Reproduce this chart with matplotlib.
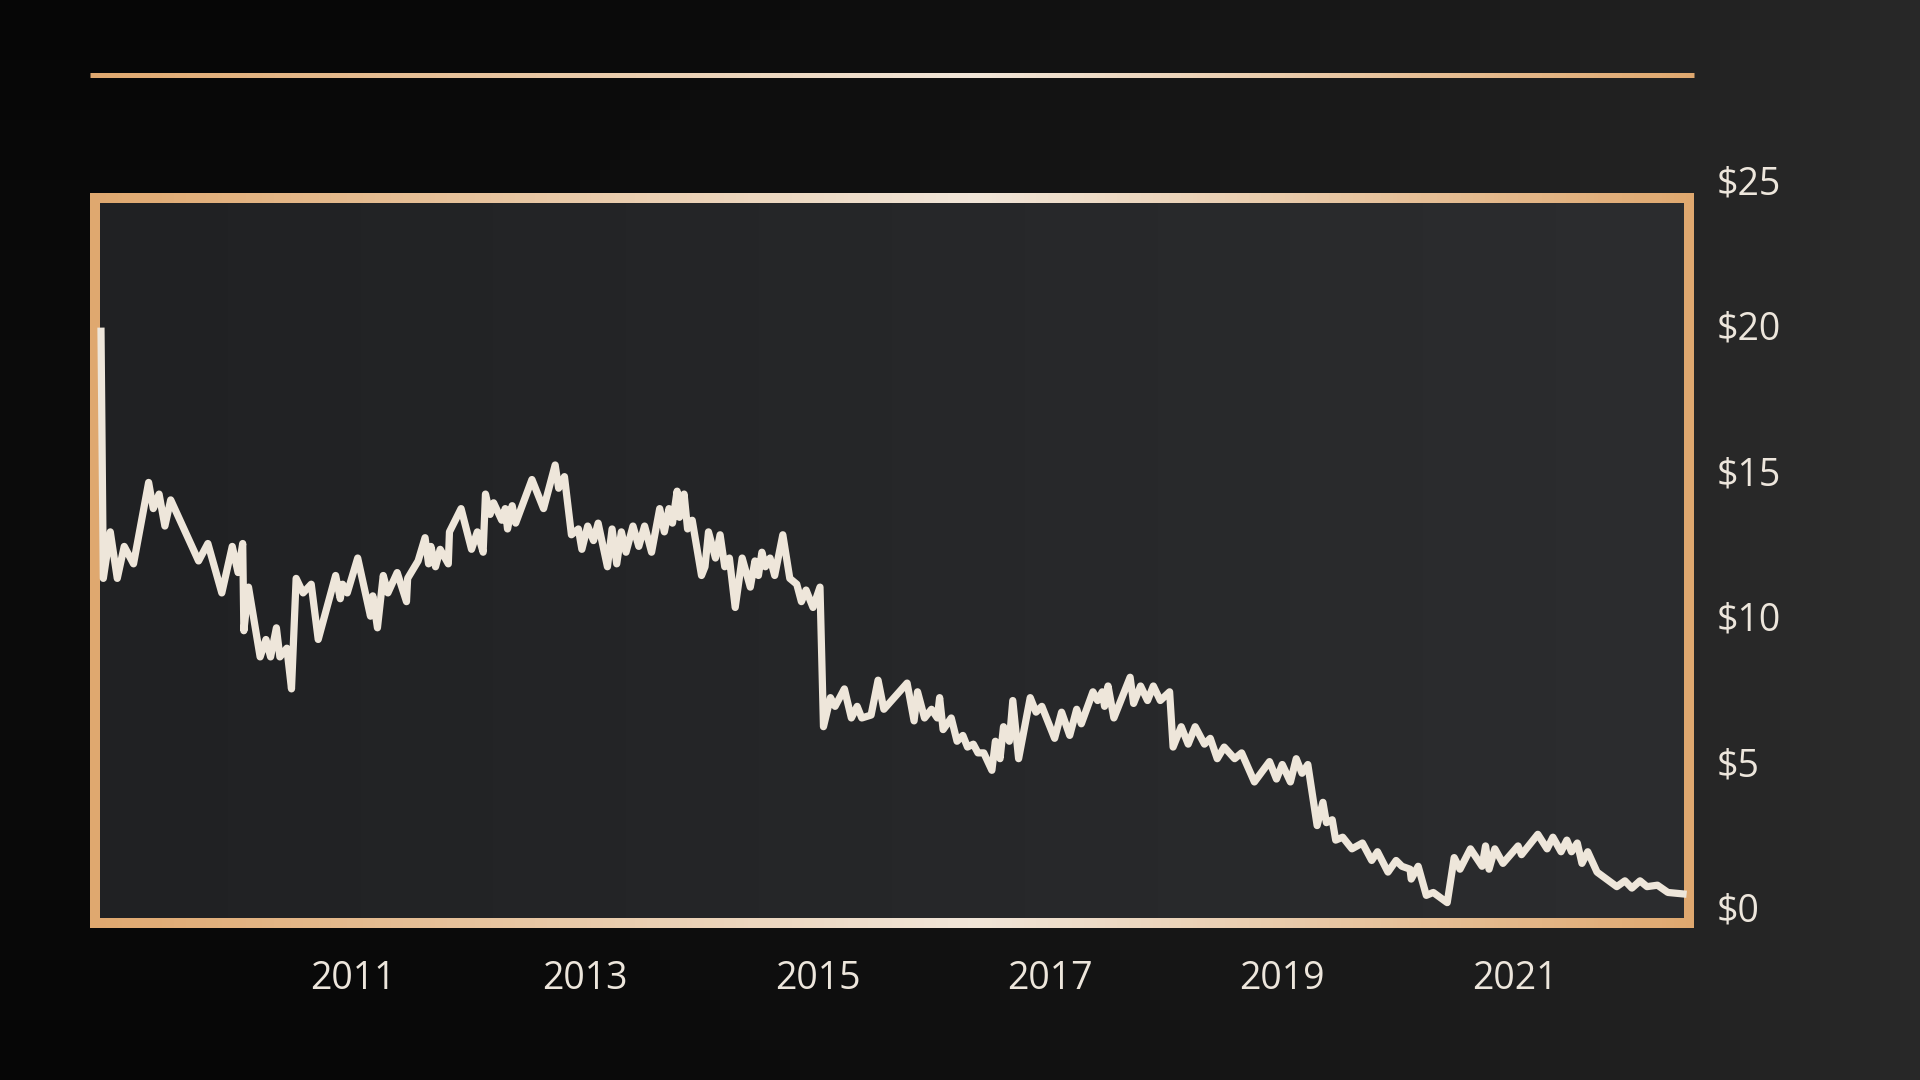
import numpy as np
import matplotlib
matplotlib.use("Agg")
import matplotlib.pyplot as plt
from matplotlib.collections import LineCollection
from matplotlib.colors import LinearSegmentedColormap

# Precio de la accion (USD), lectura aproximada del grafico
years = [
    2008.83, 2008.85, 2008.91, 2008.97, 2009.03, 2009.11, 2009.24, 2009.28, 2009.33, 2009.38,
    2009.43, 2009.67, 2009.75, 2009.87, 2009.96, 2010.01, 2010.05, 2010.06, 2010.10, 2010.20,
    2010.25, 2010.29, 2010.34, 2010.37, 2010.43, 2010.47, 2010.51, 2010.57, 2010.64, 2010.70,
    2010.85, 2010.89, 2010.91, 2010.95, 2011.04, 2011.15, 2011.17, 2011.21, 2011.26, 2011.30,
    2011.38, 2011.46, 2011.47, 2011.56, 2011.62, 2011.65, 2011.67, 2011.71, 2011.75, 2011.82,
    2011.83, 2011.93, 2012.02, 2012.07, 2012.12, 2012.14, 2012.18, 2012.21, 2012.28, 2012.31,
    2012.33, 2012.37, 2012.40, 2012.54, 2012.64, 2012.74, 2012.77, 2012.82, 2012.88, 2012.94,
    2012.97, 2013.02, 2013.07, 2013.11, 2013.19, 2013.23, 2013.27, 2013.31, 2013.35, 2013.41,
    2013.46, 2013.51, 2013.57, 2013.64, 2013.68, 2013.72, 2013.75, 2013.79, 2013.81, 2013.85,
    2013.88, 2013.92, 2014.00, 2014.03, 2014.06, 2014.12, 2014.16, 2014.20, 2014.24, 2014.29,
    2014.35, 2014.42, 2014.46, 2014.49, 2014.52, 2014.55, 2014.59, 2014.63, 2014.70, 2014.76,
    2014.82, 2014.86, 2014.90, 2014.96, 2015.02, 2015.05, 2015.11, 2015.15, 2015.23, 2015.29,
    2015.34, 2015.38, 2015.46, 2015.52, 2015.57, 2015.77, 2015.83, 2015.86, 2015.92, 2015.98,
    2016.03, 2016.05, 2016.08, 2016.15, 2016.20, 2016.25, 2016.29, 2016.34, 2016.38, 2016.43,
    2016.50, 2016.53, 2016.57, 2016.60, 2016.65, 2016.68, 2016.73, 2016.83, 2016.88, 2016.93,
    2017.04, 2017.10, 2017.17, 2017.23, 2017.27, 2017.37, 2017.41, 2017.45, 2017.47, 2017.50,
    2017.55, 2017.69, 2017.72, 2017.78, 2017.84, 2017.89, 2017.95, 2018.03, 2018.06, 2018.13,
    2018.19, 2018.25, 2018.33, 2018.38, 2018.44, 2018.50, 2018.59, 2018.65, 2018.76, 2018.89,
    2018.95, 2019.00, 2019.07, 2019.12, 2019.17, 2019.22, 2019.30, 2019.35, 2019.38, 2019.43,
    2019.46, 2019.52, 2019.60, 2019.69, 2019.77, 2019.82, 2019.91, 2019.98, 2020.03, 2020.10,
    2020.11, 2020.17, 2020.24, 2020.30, 2020.42, 2020.48, 2020.53, 2020.62, 2020.72, 2020.75,
    2020.78, 2020.83, 2020.90, 2021.03, 2021.06, 2021.20, 2021.28, 2021.33, 2021.40, 2021.45,
    2021.49, 2021.54, 2021.58, 2021.63, 2021.71, 2021.88, 2021.95, 2022.01, 2022.08, 2022.14,
    2022.23, 2022.32, 2022.45,
]
prices = [
    19.8, 11.3, 12.9, 11.3, 12.4, 11.8, 14.6, 13.7, 14.2, 13.1,
    14.0, 11.9, 12.5, 10.8, 12.4, 11.5, 12.5, 9.5, 11.0, 8.6,
    9.2, 8.6, 9.6, 8.6, 8.9, 7.5, 11.3, 10.8, 11.1, 9.2,
    11.4, 10.6, 11.1, 10.8, 12.0, 10.0, 10.7, 9.6, 11.4, 10.8,
    11.5, 10.5, 11.3, 11.9, 12.7, 11.8, 12.4, 11.7, 12.3, 11.8,
    12.9, 13.7, 12.3, 12.9, 12.2, 14.2, 13.5, 13.9, 13.3, 13.7,
    13.0, 13.8, 13.2, 14.7, 13.7, 15.2, 14.4, 14.8, 12.8, 13.0,
    12.3, 13.1, 12.6, 13.2, 11.7, 13.0, 11.8, 12.9, 12.2, 13.1,
    12.4, 13.1, 12.2, 13.7, 12.9, 13.7, 13.2, 14.3, 13.4, 14.2,
    13.0, 13.3, 11.4, 11.7, 12.9, 12.0, 12.8, 11.7, 12.0, 10.3,
    12.0, 11.0, 11.9, 11.4, 12.2, 11.7, 12.0, 11.4, 12.8, 11.3,
    11.1, 10.5, 10.9, 10.3, 11.0, 6.2, 7.2, 6.9, 7.5, 6.5,
    6.9, 6.5, 6.6, 7.8, 6.8, 7.7, 6.4, 7.4, 6.5, 6.8,
    6.5, 7.2, 6.1, 6.5, 5.7, 5.9, 5.5, 5.6, 5.3, 5.3,
    4.7, 5.7, 5.1, 6.2, 5.7, 7.1, 5.1, 7.2, 6.7, 6.9,
    5.8, 6.7, 5.9, 6.8, 6.3, 7.4, 7.1, 7.4, 6.9, 7.6,
    6.5, 7.9, 7.0, 7.6, 7.1, 7.6, 7.1, 7.4, 5.5, 6.2,
    5.6, 6.2, 5.6, 5.8, 5.1, 5.5, 5.1, 5.3, 4.3, 5.0,
    4.4, 4.9, 4.3, 5.1, 4.6, 4.9, 2.8, 3.6, 2.9, 3.0,
    2.3, 2.4, 2.0, 2.2, 1.6, 1.9, 1.2, 1.6, 1.4, 1.3,
    0.96, 1.4, 0.4, 0.5, 0.15, 1.7, 1.3, 2.0, 1.4, 2.1,
    1.3, 2.0, 1.5, 2.1, 1.8, 2.5, 2.0, 2.4, 1.9, 2.3,
    1.9, 2.2, 1.5, 1.9, 1.2, 0.7, 0.9, 0.65, 0.9, 0.7,
    0.75, 0.5, 0.45,
]
year_ticks = [2011, 2013, 2015, 2017, 2019, 2021]
price_ticks = [0, 5, 10, 15, 20, 25]
price_labels = ["$0", "$5", "$10", "$15", "$20", "$25"]

plt.rcParams["font.family"] = ["Open Sans", "DejaVu Sans"]
text_color = "#EDE6DC"
line_color = "#EEE6DA"

fig = plt.figure(figsize=(19.2, 10.8), dpi=100)

# Fondo en coordenadas de pixel (y hacia abajo)
bg = fig.add_axes([0, 0, 1, 1])
bg.set_xlim(0, 1920)
bg.set_ylim(1080, 0)
bg.axis("off")

gx = np.linspace(0, 1, 192)
gy = np.linspace(0, 1, 108)
shade = 6 + 34 * gx[None, :] ** 1.8 + 6 * np.sin(np.pi * gy[:, None])
outer = np.dstack([shade, shade, shade]) / 255.0
bg.imshow(outer, extent=[0, 1920, 1080, 0], aspect="auto", zorder=0)

inner_shade = 32 + 12 * gx[None, :] + 0 * gy[:, None]
inner = np.dstack([inner_shade, inner_shade + 1, inner_shade + 3]) / 255.0
bg.imshow(inner, extent=[95, 1689, 923, 198], aspect="auto", zorder=1)

# Marco con degradado naranja-crema
orange = "#DFA86F"
frame_cmap = LinearSegmentedColormap.from_list(
    "frame", [(0, orange), (0.55, "#F0E5D8"), (1, orange)])


def gradient_hline(y, x0, x1, lw):
    xs = np.linspace(x0, x1, 401)
    segs = [[(xs[i], y), (min(xs[i + 1] + 1, x1), y)] for i in range(len(xs) - 1)]
    lc = LineCollection(segs, colors=frame_cmap(np.linspace(0, 1, len(segs))),
                        linewidths=lw, capstyle="butt", zorder=3)
    bg.add_collection(lc)


bg.plot([95, 95], [193, 928], color=orange, lw=7.2, solid_capstyle="butt", zorder=3)
bg.plot([1689, 1689], [193, 928], color=orange, lw=7.2, solid_capstyle="butt", zorder=3)
gradient_hline(198, 90, 1694, 7.2)
gradient_hline(923, 90, 1694, 7.2)
gradient_hline(74.5, 90, 1694, 3.6)

# Eje de datos
ax = fig.add_axes([101 / 1920, 173 / 1080, 1582 / 1920, 727 / 1080])
ax.patch.set_alpha(0)
ax.plot(years, prices, color=line_color, lw=5.2, clip_on=False, zorder=5)
ax.set_xlim(2008.83, 2022.45)
ax.set_ylim(0, 25)
for s in ax.spines.values():
    s.set_visible(False)

ax.set_xticks(year_ticks)
ax.set_xticklabels([str(y) for y in year_ticks])
ax.set_yticks(price_ticks)
ax.set_yticklabels(price_labels)
ax.yaxis.tick_right()
ax.tick_params(axis="y", length=0, pad=24, labelsize=27, labelcolor=text_color)
ax.tick_params(axis="x", length=0, pad=38, labelsize=27, labelcolor=text_color)

fig.savefig("out.png", dpi=100)
